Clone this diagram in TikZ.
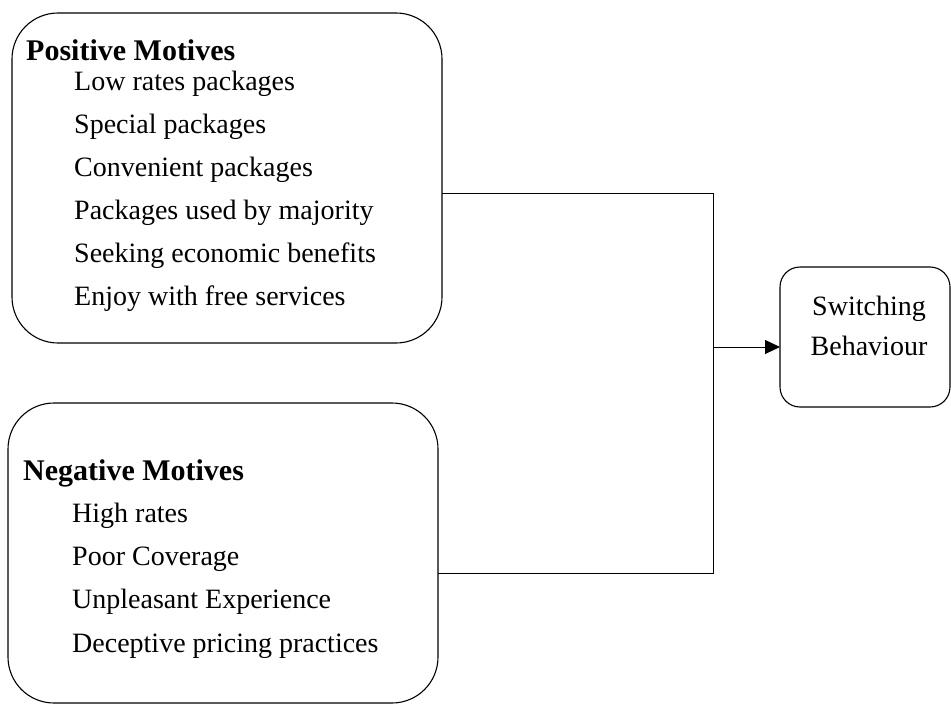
\documentclass[tikz,border=0pt]{standalone}
\usepackage{fontspec}
\setmainfont{Liberation Serif}
\usetikzlibrary{arrows.meta}
\begin{document}
\begin{tikzpicture}[x=1pt,y=-1pt,
  motivebox/.style={draw, line width=1.1pt, rounded corners=46pt, inner sep=0pt, outer sep=0pt},
  resultbox/.style={draw, line width=1.1pt, rounded corners=20pt, inner sep=0pt, outer sep=0pt},
  heading/.style={anchor=base west, inner sep=0pt, font=\fontsize{30}{34}\selectfont\bfseries},
  item/.style={anchor=base west, inner sep=0pt, font=\fontsize{28}{32}\selectfont},
  link/.style={line width=1pt},
  arrowlink/.style={line width=1pt, -{Triangle[length=15pt,width=14pt]}}]
\useasboundingbox (0,0) rectangle (951,704);

% boxes
\node[motivebox, minimum width=430pt, minimum height=330pt] (pos) at (227,178) {};
\node[motivebox, minimum width=430pt, minimum height=300pt] (neg) at (223,553) {};
\node[resultbox, minimum width=170pt, minimum height=140pt] (sw) at (865,337) {};

% positive motives
\node[heading] (ph) at (26,60) {Positive Motives};
\node[item] (p1) at (74,90) {Low rates packages};
\node[item] (p2) at (74,133) {Special packages};
\node[item] (p3) at (74,176) {Convenient packages};
\node[item] (p4) at (74,219) {Packages used by majority};
\node[item] (p5) at (74,262) {Seeking economic benefits};
\node[item] (p6) at (74,305) {Enjoy with free services};

% negative motives
\node[heading] (nh) at (23,480) {Negative Motives};
\node[item] (n1) at (72,522) {High rates};
\node[item] (n2) at (72,565) {Poor Coverage};
\node[item] (n3) at (72,608) {Unpleasant Experience};
\node[item] (n4) at (72,652) {Deceptive pricing practices};

% outcome
\node[item, anchor=base] (s1) at (869,315) {Switching};
\node[item, anchor=base] (s2) at (869,355) {Behaviour};

% connectors
\coordinate (jt) at (713,193);
\coordinate (jb) at (713,573);
\coordinate (jm) at (713,347);
\draw[link] (pos.east |- jt) -- (jt) -- (jb) -- (neg.east |- jb);
\draw[arrowlink] (jm) -- (sw.west |- jm);
\end{tikzpicture}
\end{document}
